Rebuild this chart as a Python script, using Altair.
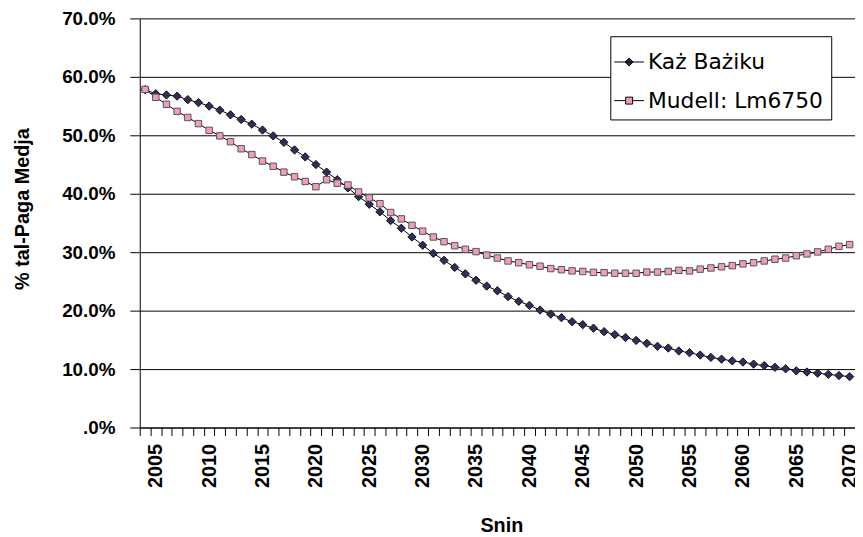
import altair as alt
import pandas as pd

years = list(range(2004, 2071))

kaz_baziku = [
    57.8, 57.1, 56.9, 56.7, 56.1, 55.6, 55.0, 54.3, 53.5, 52.7,
    51.9, 50.9, 49.9, 48.8, 47.5, 46.3, 45.0, 43.7, 42.4, 41.0,
    39.5, 38.2, 36.9, 35.4, 34.1, 32.6, 31.2, 29.8, 28.6, 27.4,
    26.3, 25.2, 24.2, 23.4, 22.4, 21.6, 20.9, 20.1, 19.4, 18.8,
    18.1, 17.6, 17.0, 16.4, 15.9, 15.4, 14.9, 14.4, 13.9, 13.6,
    13.1, 12.8, 12.4, 12.0, 11.7, 11.4, 11.2, 10.85, 10.6, 10.3,
    10.05, 9.7, 9.5, 9.3, 9.1, 8.9, 8.7,
]

mudell = [
    57.85, 56.5, 55.3, 54.1, 53.05, 52.0, 50.85, 49.9, 48.9, 47.7,
    46.7, 45.6, 44.7, 43.7, 42.9, 42.1, 41.2, 42.4, 41.8, 41.5,
    40.3, 39.3, 38.3, 36.8, 35.7, 34.6, 33.6, 32.6, 31.8, 31.1,
    30.5, 30.1, 29.5, 29.0, 28.5, 28.2, 27.85, 27.6, 27.2, 27.0,
    26.8, 26.7, 26.55, 26.5, 26.4, 26.4, 26.4, 26.6, 26.6, 26.7,
    26.9, 26.8, 27.1, 27.3, 27.5, 27.7, 28.0, 28.2, 28.5, 28.8,
    29.0, 29.4, 29.7, 30.05, 30.5, 31.0, 31.3,
]

series_names = ["Każ Bażiku", "Mudell: Lm6750"]
y_ticks = [0.0, 0.1, 0.2, 0.3, 0.4, 0.5, 0.6, 0.7]

fill_colors = ["#2E2E5C", "#F09CC2"]
legend_shapes = [
    "M-1.5,0L1.5,0M0,-0.4L0.4,0L0,0.4L-0.4,0Z",
    "M-1.5,0L-0.35,0M0.35,0L1.5,0M-0.35,-0.35L0.35,-0.35L0.35,0.35L-0.35,0.35Z",
]

df = pd.DataFrame({
    "year": years + years,
    "value": [v / 100 for v in kaz_baziku] + [v / 100 for v in mudell],
    "series": [series_names[0]] * len(years) + [series_names[1]] * len(years),
})

PLOT_W = 722
PLOT_H = 413
half_band = PLOT_W / len(years) / 2

x_enc = alt.X(
    "year:Q",
    scale=alt.Scale(domain=[years[0] - 0.5, years[-1] + 0.5], nice=False, zero=False),
    axis=alt.Axis(
        values=years,
        tickOffset=-half_band,
        labelOffset=half_band,
        labelExpr="datum.value % 5 == 0 ? '' + datum.value : ''",
        labelAngle=270,
        labelOverlap=False,
        labelFlush=False,
        labelBound=False,
        labelFont="Liberation Sans",
        labelFontWeight="bold",
        labelFontSize=20,
        labelColor="#000000",
        labelPadding=8,
        tickSize=8,
        tickColor="#000000",
        domainColor="#000000",
        grid=False,
        title="Snin",
        titleFont="Liberation Sans",
        titleFontWeight="bold",
        titleFontSize=20,
        titleColor="#000000",
        titleX=365,
        titleY=105,
        titleAlign="center",
        titleBaseline="alphabetic",
    ),
)

y_enc = alt.Y(
    "value:Q",
    scale=alt.Scale(domain=[0, 0.7], nice=False, zero=True),
    axis=alt.Axis(
        values=y_ticks,
        labelExpr="datum.value < 0.001 ? '.0%' : format(datum.value, '.1%')",
        labelFont="Liberation Sans",
        labelFontWeight="bold",
        labelFontSize=19,
        labelColor="#000000",
        labelPadding=15,
        tickSize=10,
        tickColor="#000000",
        domainColor="#000000",
        grid=True,
        gridColor="#000000",
        gridWidth=1,
        title="% tal-Paga Medja",
        titleFont="Liberation Sans",
        titleFontWeight="bold",
        titleFontSize=20,
        titleColor="#000000",
        titleAngle=270,
        titleX=-118,
        titleY=192,
        titleAlign="center",
        titleBaseline="middle",
    ),
)

base = alt.Chart(df)

line1 = base.transform_filter(alt.datum.series == series_names[0]).mark_line(
    color="#000000", strokeWidth=1
).encode(x=x_enc, y=y_enc)

pts1 = base.transform_filter(alt.datum.series == series_names[0]).mark_point(
    shape="diamond", filled=True, fill=fill_colors[0], stroke="#111111",
    strokeWidth=1, size=70, opacity=1
).encode(x=x_enc, y=y_enc)

line2 = base.transform_filter(alt.datum.series == series_names[1]).mark_line(
    color="#000000", strokeWidth=1
).encode(x=x_enc, y=y_enc)

pts2 = base.transform_filter(alt.datum.series == series_names[1]).mark_point(
    shape="square", filled=True, fill=fill_colors[1], stroke="#555555",
    strokeWidth=1, size=42, opacity=1
).encode(x=x_enc, y=y_enc)

legend_layer = base.transform_filter("datum.year < 0").mark_point(
    filled=True, stroke="#000000", strokeWidth=1, opacity=1, fillOpacity=1,
    strokeOpacity=1
).encode(
    x=x_enc,
    y=y_enc,
    fill=alt.Fill(
        "series:N",
        scale=alt.Scale(domain=series_names, range=fill_colors),
        legend=alt.Legend(
            title=" ",
            titleFontSize=1,
            titlePadding=6,
            orient="none",
            legendX=475,
            legendY=18,
            padding=8,
            strokeColor="#000000",
            fillColor="#FFFFFF",
            symbolSize=400,
            symbolStrokeColor="#000000",
            symbolStrokeWidth=1,
            symbolOpacity=1,
            labelFont="DejaVu Sans",
            labelFontSize=22,
            labelColor="#000000",
            labelOffset=8,
            labelExpr="datum.label + '\u00a0\u00a0\u00a0'",
            rowPadding=17,
            labelLimit=400,
        ),
    ),
    shape=alt.Shape(
        "series:N",
        scale=alt.Scale(domain=series_names, range=legend_shapes),
    ),
)

chart = alt.layer(line1, pts1, line2, pts2, legend_layer).properties(
    width=PLOT_W,
    height=PLOT_H,
    autosize=alt.AutoSizeParams(type="none"),
    padding={"left": 133, "top": 8, "right": 0, "bottom": 108},
    background="#FFFFFF",
).configure_view(strokeWidth=0)

chart.save("out.html", embed_options={"renderer": "svg", "actions": False})
